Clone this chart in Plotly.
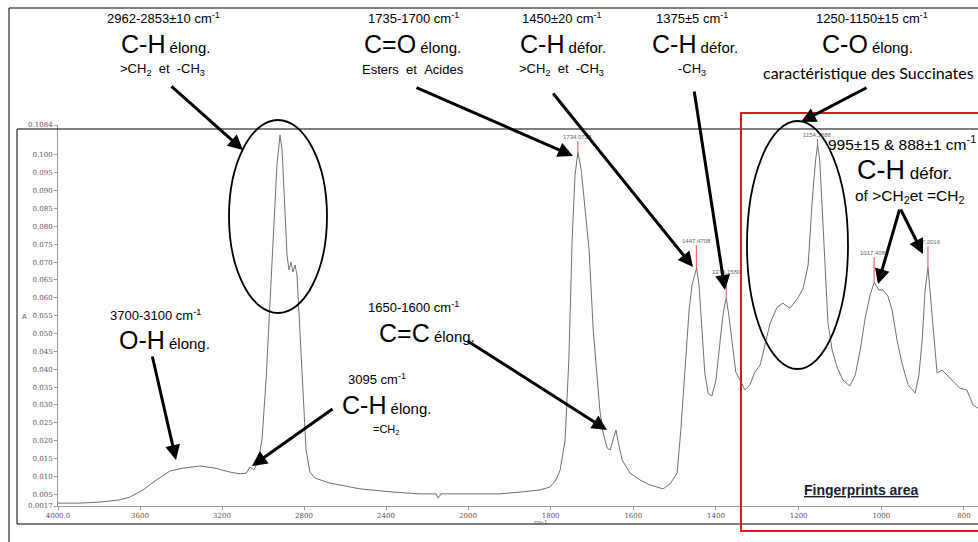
import plotly.graph_objects as go

# ---------------- data ----------------
wn_high = [4000, 3893, 3795, 3698, 3649, 3585, 3527, 3454, 3390, 3307, 3234, 3161, 3112, 3083,
           3063, 3045, 3024, 3005, 2985, 2966, 2946, 2932, 2917, 2907, 2893, 2883, 2873, 2863,
           2854, 2844, 2834, 2820, 2805, 2790, 2771, 2746, 2673, 2527, 2366, 2234, 2156, 2146,
           2132, 2063, 2000]
abs_high = [0.0025, 0.0025, 0.0028, 0.0034, 0.0042, 0.0062, 0.0087, 0.0115, 0.0123, 0.0129,
            0.0123, 0.0112, 0.0107, 0.0109, 0.0126, 0.0118, 0.0140, 0.0202, 0.0370, 0.0594,
            0.0818, 0.0972, 0.1056, 0.1014, 0.0846, 0.0720, 0.0678, 0.0700, 0.0672, 0.0692,
            0.0664, 0.0510, 0.0314, 0.0174, 0.0112, 0.0095, 0.0081, 0.0065, 0.0056, 0.0051,
            0.0051, 0.0039, 0.0051, 0.0051, 0.0051]

wn_low = [2000, 1971, 1923, 1874, 1826, 1802, 1787, 1777, 1765, 1756, 1748, 1741, 1734, 1726,
          1716, 1707, 1697, 1688, 1681, 1673, 1663, 1656, 1649, 1642, 1635, 1627, 1608, 1584,
          1560, 1528, 1511, 1494, 1485, 1475, 1465, 1458, 1451, 1447, 1441, 1434, 1427, 1419,
          1410, 1400, 1390, 1384, 1379, 1375, 1369, 1360, 1352, 1342, 1330, 1318, 1306, 1293,
          1281, 1269, 1252, 1238, 1221, 1202, 1189, 1177, 1167, 1159, 1154, 1149, 1144, 1137,
          1129, 1119, 1107, 1093, 1076, 1063, 1051, 1039, 1027, 1017, 1006, 996, 984, 974,
          962, 950, 935, 918, 909, 901, 894, 887, 880, 872, 865, 853, 841, 826, 817, 810, 793,
          778, 766]
abs_low = [0.0051, 0.0051, 0.0051, 0.0056, 0.0062, 0.0070, 0.0090, 0.0118, 0.0202, 0.0426,
           0.0762, 0.0944, 0.1008, 0.0958, 0.0846, 0.0734, 0.0510, 0.0389, 0.0286, 0.0221,
           0.0179, 0.0174, 0.0202, 0.0230, 0.0188, 0.0146, 0.0109, 0.0090, 0.0076, 0.0065,
           0.0079, 0.0109, 0.0230, 0.0389, 0.0566, 0.0636, 0.0672, 0.0683, 0.0636, 0.0510,
           0.0389, 0.0333, 0.0325, 0.0370, 0.0482, 0.0543, 0.0580, 0.0599, 0.0552, 0.0468,
           0.0392, 0.0370, 0.0342, 0.0356, 0.0392, 0.0412, 0.0468, 0.0529, 0.0574, 0.0585,
           0.0571, 0.0599, 0.0627, 0.0692, 0.0874, 0.0986, 0.1028, 0.0986, 0.0874, 0.0706,
           0.0529, 0.0454, 0.0406, 0.0370, 0.0353, 0.0384, 0.0454, 0.0543, 0.0608, 0.0644,
           0.0622, 0.0622, 0.0605, 0.0566, 0.0482, 0.0417, 0.0356, 0.0333, 0.0384, 0.0482,
           0.0622, 0.0686, 0.0594, 0.0468, 0.0389, 0.0398, 0.0384, 0.0364, 0.0356, 0.0347,
           0.0342, 0.0300, 0.0291]

peak_wn = [1734.0718, 1447.4708, 1375.1580, 1154.1588, 1017.4082, 887.2016]
peak_abs = [0.1008, 0.0683, 0.0599, 0.1028, 0.0644, 0.0686]
peak_text = ["1734.0718", "1447.4708", "1375.1580", "1154.1588", "1017.4082", "887.2016"]
peak_stem = [11, 23, 22, 6, 25, 21]

x_ticks_high = [4000, 3600, 3200, 2800, 2400]
x_ticktext_high = ["4000.0", "3600", "3200", "2800", "2400"]
x_ticks_low = [2000, 1800, 1600, 1400, 1200, 1000, 800]
x_ticktext_low = ["2000", "1800", "1600", "1400", "1200", "1000", "800"]
y_ticks = [0.0017, 0.005, 0.010, 0.015, 0.020, 0.025, 0.030, 0.035, 0.040, 0.045, 0.050,
           0.055, 0.060, 0.065, 0.070, 0.075, 0.080, 0.085, 0.090, 0.095, 0.100, 0.1084]
y_ticktext = ["0.0017", "0.005", "0.010", "0.015", "0.020", "0.025", "0.030", "0.035",
              "0.040", "0.045", "0.050", "0.055", "0.060", "0.065", "0.070", "0.075",
              "0.080", "0.085", "0.090", "0.095", "0.100", "0.1084"]

# ---------------- layout helpers ----------------
W, H = 978, 542
PL, PR, PT, PB = 58, 978, 125, 506   # plot area in pixels
split = (468 - PL) / (PR - PL)


def px(x):
    return (x - PL) / (PR - PL)


def py(y):
    return (PB - y) / (PB - PT)


SANS = "Liberation Sans, Arial, sans-serif"
NBSP = "\u00a0"

fig = go.Figure()
fig.add_trace(go.Scatter(x=wn_high, y=abs_high, mode="lines", xaxis="x", yaxis="y",
                         line=dict(color="#707070", width=1), hoverinfo="skip"))
fig.add_trace(go.Scatter(x=wn_low, y=abs_low, mode="lines", xaxis="x2", yaxis="y",
                         line=dict(color="#707070", width=1), hoverinfo="skip"))

shapes = []
annotations = []

# peak markers
for w, a, t, s in zip(peak_wn, peak_abs, peak_text, peak_stem):
    shapes.append(dict(type="line", xref="x2", yref="y", ysizemode="pixel", yanchor=a,
                       x0=w, x1=w, y0=0, y1=s, line=dict(color="#f05050", width=1)))
    annotations.append(dict(xref="x2", yref="y", x=w, y=a, yshift=s + 4, text=t,
                            showarrow=False, font=dict(size=6, color="#666", family=SANS),
                            yanchor="middle"))

# frames
shapes += [
    dict(type="line", xref="paper", yref="paper", x0=px(9), x1=px(990), y0=py(8), y1=py(8),
         line=dict(color="black", width=1)),
    dict(type="line", xref="paper", yref="paper", x0=px(9), x1=px(9), y0=py(8), y1=py(560),
         line=dict(color="black", width=1)),
    dict(type="rect", xref="paper", yref="paper", x0=px(17), x1=px(1000), y0=py(129),
         y1=py(524), line=dict(color="black", width=1)),
    dict(type="rect", xref="paper", yref="paper", x0=px(741), x1=px(1000), y0=py(113),
         y1=py(531), line=dict(color="#e3141b", width=2)),
    dict(type="circle", xref="paper", yref="paper", x0=px(229), x1=px(327), y0=py(120),
         y1=py(313), line=dict(color="black", width=1.8)),
    dict(type="circle", xref="paper", yref="paper", x0=px(747), x1=px(848), y0=py(121),
         y1=py(369), line=dict(color="black", width=1.8)),
]


def text_at(x, y, text, size, family=SANS, xanchor="center", color="black"):
    annotations.append(dict(xref="paper", yref="paper", x=px(x), y=py(y), text=text,
                            showarrow=False, xanchor=xanchor, yanchor="middle",
                            font=dict(size=size, family=family, color=color)))


def big(sym, rest, x, y, size=25, rest_size=15):
    text_at(x, y, f"<span style='font-size:{size}px'>{sym}</span>{NBSP}{rest}", rest_size)


def arrow(x0, y0, x1, y1):
    annotations.append(dict(xref="paper", yref="paper", x=px(x1), y=py(y1), ax=x0 - x1,
                            ay=y0 - y1, text="", showarrow=True, arrowhead=2, arrowsize=1,
                            arrowwidth=3, arrowcolor="black", standoff=0, startstandoff=0))


CM = f"{NBSP}cm<sup>-1</sup>"
# group 1
text_at(163, 18, "2962-2853±10" + CM, 13)
big("C-H", "élong.", 165, 44)
text_at(162, 70, f">CH<sub>2</sub>{NBSP} et {NBSP}-CH<sub>3</sub>", 13)
arrow(170, 85, 243, 150)
# group 2
text_at(413, 18, "1735-1700" + CM, 13)
big("C=O", "élong.", 412, 44)
text_at(413, 70, f"Esters {NBSP}et {NBSP}Acides", 13)
arrow(415, 87, 573, 156)
# group 3
text_at(562, 18, "1450±20" + CM, 13)
big("C-H", "défor.", 563, 44)
text_at(561, 70, f">CH<sub>2</sub>{NBSP} et {NBSP}-CH<sub>3</sub>", 13)
arrow(552, 92, 693, 267)
# group 4
text_at(692, 18, "1375±5" + CM, 13)
big("C-H", "défor.", 695, 44)
text_at(692, 70, "-CH<sub>3</sub>", 13)
arrow(694, 90, 725, 290)
# group 5
text_at(872, 18, "1250-1150±15" + CM, 13)
big("C-O", "élong.", 867, 44)
text_at(868, 72, "caractéristique des Succinates", 16, family="Lato, Carlito, sans-serif")
arrow(868, 87, 801, 122)
# group 6
text_at(826, 143, "995±15 & 888±1" + CM, 15.5, xanchor="left")
big("C-H", "défor.", 904, 170, size=27, rest_size=17)
text_at(909, 196, f"of >CH<sub>2</sub>et{NBSP}=CH<sub>2</sub>", 15.5)
arrow(900, 208, 878, 284)
arrow(900, 208, 923, 254)
# group 7
text_at(155, 315, "3700-3100" + CM, 13)
big("O-H", "élong.", 164, 340)
arrow(152, 355, 176, 460)
# group 8
text_at(377, 379, "3095" + CM, 13)
big("C-H", "élong.", 386, 405)
text_at(386, 430, "=CH<sub>2</sub>", 11)
arrow(334, 408, 252, 466)
# group 9
text_at(413, 307, "1650-1600" + CM, 13)
big("C=C", "élong.", 427, 333)
arrow(466, 340, 607, 430)

# axis titles and footer
text_at(24, 316, "A", 7, color="#555")
text_at(541, 522, "cm-1", 6, color="#555")
text_at(861, 490, "<b><u>Fingerprints area</u></b>", 14, color="#1c1c30")

tickfont = dict(size=7, color="#555", family="DejaVu Serif, serif")
axis_common = dict(showgrid=False, zeroline=False, showline=True, linecolor="#999",
                   linewidth=1, ticks="outside", ticklen=3, tickcolor="#999",
                   tickfont=tickfont, automargin=False)
fig.update_layout(
    template="none",
    width=W, height=H,
    margin=dict(l=PL, r=W - PR, t=PT, b=H - PB, pad=0, autoexpand=False),
    paper_bgcolor="white", plot_bgcolor="white",
    showlegend=False,
    xaxis=dict(domain=[0, split], range=[4000, 2000], tickvals=x_ticks_high,
               ticktext=x_ticktext_high, anchor="y", **axis_common),
    xaxis2=dict(domain=[split, 1], range=[2000, 766], tickvals=x_ticks_low,
                ticktext=x_ticktext_low, anchor="y", **axis_common),
    yaxis=dict(range=[0.0017, 0.1084], tickvals=y_ticks, ticktext=y_ticktext,
               anchor="x", **axis_common),
    shapes=shapes,
    annotations=annotations,
)

fig.write_html("out.html", config={"displayModeBar": False},
               post_script="document.body.style.margin='0';document.body.style.overflow='hidden';")
